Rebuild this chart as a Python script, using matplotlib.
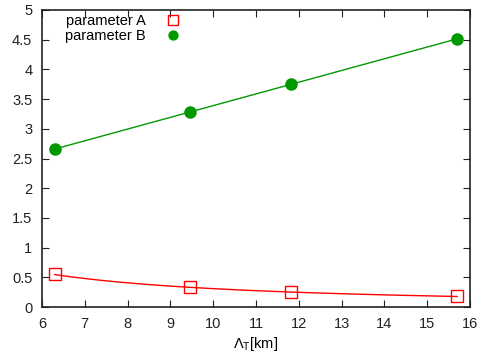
import numpy as np
import matplotlib
matplotlib.use("Agg")
import matplotlib.pyplot as plt

plt.rcParams['font.family'] = ['Liberation Sans', 'DejaVu Sans']
plt.rcParams['mathtext.fontset'] = 'custom'
plt.rcParams['mathtext.rm'] = 'Liberation Sans'
plt.rcParams['mathtext.it'] = 'Liberation Sans:italic'

# Data
lambda_t = [6.3, 9.47, 11.81, 15.7]
param_a = [0.55, 0.33, 0.25, 0.18]
param_b = [2.66, 3.28, 3.755, 4.51]
x_ticks = [6, 7, 8, 9, 10, 11, 12, 13, 14, 15, 16]
y_ticks = [0, 0.5, 1, 1.5, 2, 2.5, 3, 3.5, 4, 4.5, 5]
y_tick_labels = ['0', '0.5', '1', '1.5', '2', '2.5', '3', '3.5', '4', '4.5', '5']

fig = plt.figure(figsize=(4.79, 3.55), dpi=100)
ax = fig.add_axes([0.0877, 0.135, 0.8933, 0.837])

xa = np.array(lambda_t)
# fitted curves (gnuplot-style fits)
xf = np.linspace(xa.min(), xa.max(), 200)
pa = np.polyfit(np.log(xa), np.log(param_a), 1)
pb = np.polyfit(xa, param_b, 1)
ax.plot(xf, np.exp(np.polyval(pa, np.log(xf))), color='#ff0000', lw=1.0)
ax.plot(xf, np.polyval(pb, xf), color='#009900', lw=1.0)

ha, = ax.plot(lambda_t, param_a, ls='none', marker='s', ms=9, mfc='none',
              mec='#ff0000', mew=1.0, label='parameter A')
hb, = ax.plot(lambda_t, param_b, ls='none', marker='o', ms=8, color='#009900',
              label='parameter B')

ax.set_xlim(6, 16)
ax.set_ylim(0, 5)
ax.set_xticks(x_ticks)
ax.set_yticks(y_ticks)
ax.set_yticklabels(y_tick_labels)
ax.tick_params(direction='in', top=True, right=True, length=5, width=0.8,
               labelsize=10.5, colors='#222222')
ax.tick_params(axis='x', pad=7)
ax.tick_params(axis='y', pad=7)
for s in ax.spines.values():
    s.set_linewidth(1.2)
    s.set_color('#222222')

ax.set_xlabel(r'$\mathrm{\Lambda_T}$[km]', fontsize=10.5, labelpad=3)

leg = ax.legend(handles=[ha, hb], loc='upper left', bbox_to_anchor=(0.03, 1.02),
                frameon=False, markerfirst=False, fontsize=10.5,
                handlelength=1.0, handletextpad=1.4, labelspacing=0.05,
                borderpad=0.2, markerscale=0.8)

fig.savefig('out.png', dpi=100)
